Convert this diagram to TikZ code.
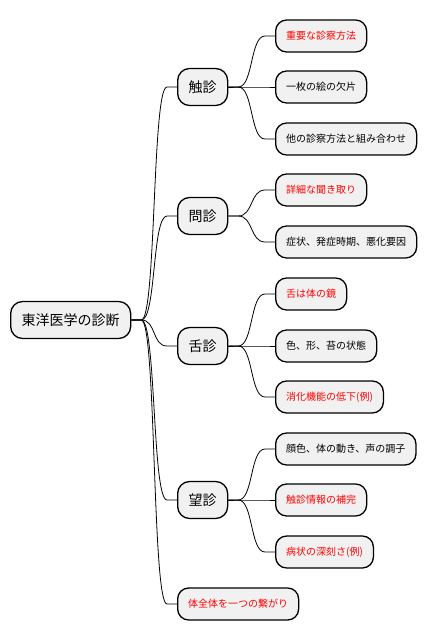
\documentclass[tikz,border=0pt]{standalone}
\usepackage{fontspec}
\setmainfont{Noto Sans CJK JP}
\definecolor{boxfill}{RGB}{241,241,241}
\definecolor{note}{RGB}{255,0,0}
\usepackage{tikz}
\usetikzlibrary{positioning}
\tikzset{
    rootbox/.style={rectangle, rounded corners=12pt, draw=black, line width=1.3pt, fill=boxfill, minimum height=37pt, inner xsep=11pt, anchor=west, font=\fontsize{14}{16}\selectfont},
    topic/.style={rootbox},
    leaf/.style={rectangle, rounded corners=11pt, draw=black, line width=1.3pt, fill=boxfill, minimum height=32pt, inner xsep=10.5pt, anchor=west, font=\fontsize{10}{12}\selectfont},
    keyleaf/.style={leaf, text=note},
    branch/.style={line width=0.8pt, to path={-- ++(10,0) .. controls +(15,0) and ([xshift=-25pt]\tikztotarget.west) .. ([xshift=-10pt]\tikztotarget.west) -- (\tikztotarget.west)}}
}
\begin{document}
\begin{tikzpicture}[x=1pt, y=-1pt]
                \useasboundingbox (0,0) rectangle (426,640);
                \node[rootbox] (root) at (10,320) {東洋医学の診断};
                \node[topic] (shokushin) at (177,87) {触診};
                \node[topic] (monshin) at (177,216) {問診};
                \node[topic] (zesshin) at (177,346) {舌診};
                \node[topic] (boushin) at (177,500) {望診};
                \node[keyleaf] (whole) at (177,604) {体全体を一つの繋がり};
                \node[keyleaf] (s1) at (275,36) {重要な診察方法};
                \node[leaf] (s2) at (275,87) {一枚の絵の欠片};
                \node[leaf] (s3) at (275,139) {他の診察方法と組み合わせ};
                \node[keyleaf] (m1) at (275,190) {詳細な聞き取り};
                \node[leaf] (m2) at (275,242) {症状、発症時期、悪化要因};
                \node[keyleaf] (z1) at (275,294) {舌は体の鏡};
                \node[leaf] (z2) at (275,346) {色、形、苔の状態};
                \node[keyleaf] (z3) at (275,397) {消化機能の低下(例)};
                \node[leaf] (b1) at (275,449) {顔色、体の動き、声の調子};
                \node[keyleaf] (b2) at (275,500) {触診情報の補完};
                \node[keyleaf] (b3) at (275,552) {病状の深刻さ(例)};
                \draw[branch] (root.east) to (shokushin);
                \draw[branch] (root.east) to (monshin);
                \draw[branch] (root.east) to (zesshin);
                \draw[branch] (root.east) to (boushin);
                \draw[branch] (root.east) to (whole);
                \draw[branch] (shokushin.east) to (s1);
                \draw[branch] (shokushin.east) to (s2);
                \draw[branch] (shokushin.east) to (s3);
                \draw[branch] (monshin.east) to (m1);
                \draw[branch] (monshin.east) to (m2);
                \draw[branch] (zesshin.east) to (z1);
                \draw[branch] (zesshin.east) to (z2);
                \draw[branch] (zesshin.east) to (z3);
                \draw[branch] (boushin.east) to (b1);
                \draw[branch] (boushin.east) to (b2);
                \draw[branch] (boushin.east) to (b3);
            \end{tikzpicture}
\end{document}
